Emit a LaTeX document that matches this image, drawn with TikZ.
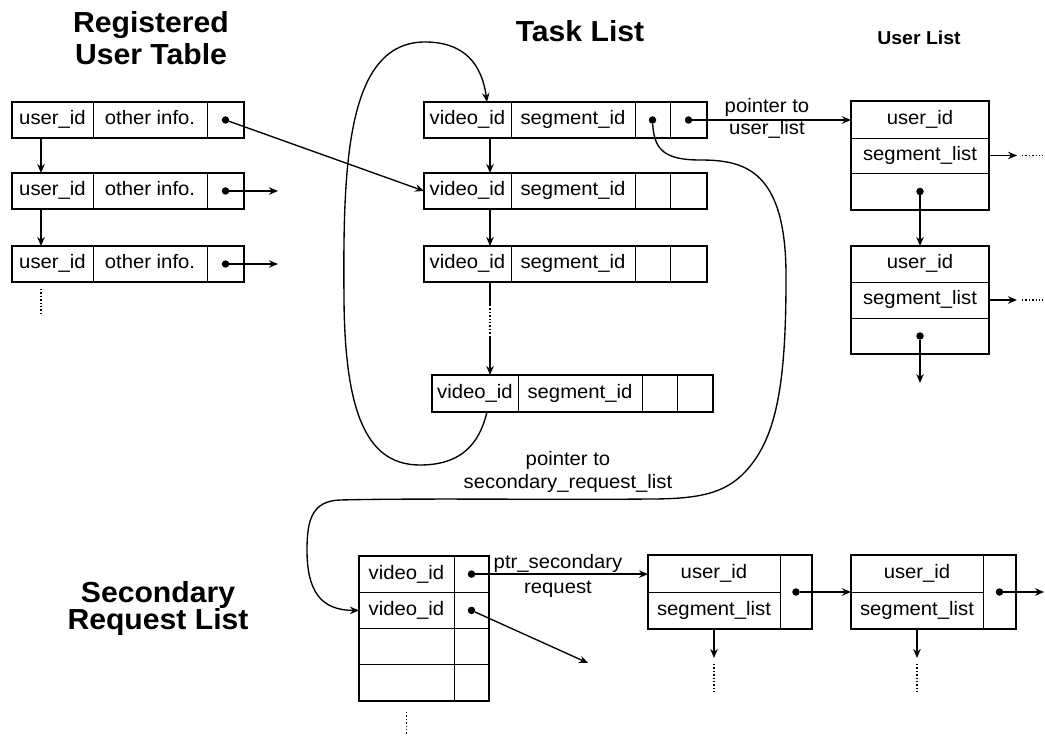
\documentclass[tikz,border=0pt]{standalone}
\usepackage{fontspec}
\setmainfont{Liberation Sans}[FakeStretch=1.04]
\usetikzlibrary{arrows.meta}
\newcommand\cellfnt{\fontsize{19.5}{23}\selectfont}
\newcommand\headfnt{\fontsize{29}{33}\selectfont\bfseries}
\newcommand\subheadfnt{\fontsize{18.7}{22}\selectfont\bfseries}
\begin{document}
\begin{tikzpicture}[x=1pt,y=-1pt,
  cell/.style={draw, line width=0.9pt, inner sep=0pt, outer sep=0pt, font=\cellfnt,
    text height=13.9pt, text depth=4.1pt},
  wh/.style 2 args={minimum width=#1pt, minimum height=#2pt},
  frame/.style={line width=1.9pt},
  ptr/.style={line width=1.35pt, -{Stealth[length=9pt,width=7.5pt]}},
  dotpt/.style={circle, fill, inner sep=0pt, minimum size=7.5pt},
  more/.style={line width=1.4pt, dash pattern=on 1.4pt off 2pt},
  head/.style={font=\headfnt, anchor=base, inner sep=0pt},
  lbl/.style={font=\cellfnt, anchor=base, inner sep=0pt}]
\useasboundingbox (0,0) rectangle (1045,738);

% ---------- titles ----------
\node[head] (hreg1) at (151,33) {Registered};
\node[head] (hreg2) at (151,65) {User Table};
\node[head] (htask) at (580,42) {Task List};
\node[head, font=\subheadfnt] (huser) at (919,45) {User List};
\node[head] (hsec1) at (158,602) {Secondary};
\node[head] (hsec2) at (158,629) {Request List};

% ---------- registered user table ----------
\foreach \r/\y in {1/120,2/191,3/264}{
  \node[cell, wh={81}{36}] (r\r a) at (52.5,\y) {user\_id};
  \node[cell, wh={114}{36}] (r\r b) at (150,\y) {other info.};
  \node[cell, wh={37}{36}] (r\r c) at (225.5,\y) {};
  \draw[frame] (r\r a.north west) rectangle (r\r c.south east);
  \node[dotpt] (r\r dot) at (r\r c.center) {};
}
\draw[ptr] ([xshift=-11.5pt]r1a.south) -- ([xshift=-11.5pt]r2a.north);
\draw[ptr] ([xshift=-11.5pt]r2a.south) -- ([xshift=-11.5pt]r3a.north);
\draw[more] ([xshift=-11.5pt,yshift=-7pt]r3a.south) -- ([xshift=-11.5pt,yshift=-31pt]r3a.south);
\coordinate (r2end) at (278,191);
\coordinate (r3end) at (278,264);
\draw[ptr] (r2dot) -- (r2end);
\draw[ptr] (r3dot) -- (r3end);

% ---------- task list ----------
\foreach \r/\y in {1/120,2/191,3/264}{
  \node[cell, wh={87}{36}] (t\r a) at (467.5,\y) {video\_id};
  \node[cell, wh={124}{36}] (t\r b) at (573,\y) {segment\_id};
  \node[cell, wh={35}{36}] (t\r c) at (652.5,\y) {};
  \node[cell, wh={37}{36}] (t\r d) at (688.5,\y) {};
  \draw[frame] (t\r a.north west) rectangle (t\r d.south east);
}
\node[cell, wh={86}{37}] (t4a) at (475,393.5) {video\_id};
\node[cell, wh={124}{37}] (t4b) at (580,393.5) {segment\_id};
\node[cell, wh={35}{37}] (t4c) at (659.5,393.5) {};
\node[cell, wh={36}{37}] (t4d) at (695,393.5) {};
\draw[frame] (t4a.north west) rectangle (t4d.south east);
\node[dotpt] (t1cdot) at (t1c.center) {};
\node[dotpt] (t1ddot) at (t1d.center) {};

\draw[ptr] ([xshift=22.5pt]t1a.south) -- ([xshift=22.5pt]t2a.north);
\draw[ptr] ([xshift=22.5pt]t2a.south) -- ([xshift=22.5pt]t3a.north);
\coordinate (t3m1) at (490,305);
\coordinate (t3m2) at (490,337);
\draw[line width=1.35pt] ([xshift=22.5pt]t3a.south) -- (t3m1);
\draw[more] (t3m1) -- (t3m2);
\draw[ptr] (t3m2) -- ([xshift=15pt]t4a.north);

% registered user -> task entry
\draw[ptr] (r1dot) -- (t2a.west);

% loop from the last task back to the head of the list
\draw[ptr] ([xshift=12pt]t4a.south) .. controls (478,450) and (455,465) .. (420,465)
  .. controls (370,465) and (345,420) .. (344,300)
  .. controls (343,170) and (345,42) .. (425,42)
  .. controls (465,42) and (482,65) .. ([xshift=19.5pt]t1a.north);

% ---------- user list ----------
\node[cell, wh={138}{37}] (u1a) at (920,119.5) {user\_id};
\node[cell, wh={138}{35}] (u1b) at (920,155.5) {segment\_list};
\node[cell, wh={138}{37}] (u1c) at (920,191.5) {};
\draw[frame] (u1a.north west) rectangle (u1c.south east);
\node[cell, wh={138}{36}] (u2a) at (920,264) {user\_id};
\node[cell, wh={138}{36}] (u2b) at (920,300) {segment\_list};
\node[cell, wh={138}{36}] (u2c) at (920,336) {};
\draw[frame] (u2a.north west) rectangle (u2c.south east);
\node[dotpt] (u1dot) at (u1c.center) {};
\node[dotpt] (u2dot) at (u2c.center) {};

\draw[ptr] (t1ddot) -- (t1ddot -| u1a.west);
\node[lbl] (lblu1) at (767,113) {pointer to};
\node[lbl] (lblu2) at (767,135) {user\_list};

\coordinate (u1next) at (1017,155.5);
\coordinate (u1more) at (1043,155.5);
\draw[ptr] (u1b.east) -- (u1next);
\draw[more] ([xshift=5pt]u1next) -- (u1more);
\coordinate (u2next) at (1017,300);
\coordinate (u2more) at (1043,300);
\draw[ptr] (u2b.east) -- (u2next);
\draw[more] ([xshift=5pt]u2next) -- (u2more);
\draw[ptr] (u1dot) -- (u2a.north);
\coordinate (u2end) at (920,383);
\draw[ptr] (u2dot) -- (u2end);

% ---------- secondary request list ----------
\foreach \r/\y in {1/574.1,2/610.4,3/646.6,4/682.9}{
  \node[cell, wh={95}{36.25}] (s\r a) at (406.5,\y) {};
  \node[cell, wh={35}{36.25}] (s\r b) at (471.5,\y) {};
}
\node[font=\cellfnt, inner sep=0pt, text height=13.9pt, text depth=4.1pt] (s1txt) at (s1a) {video\_id};
\node[font=\cellfnt, inner sep=0pt, text height=13.9pt, text depth=4.1pt] (s2txt) at (s2a) {video\_id};
\draw[frame] (s1a.north west) rectangle (s4b.south east);
\node[dotpt] (s1dot) at (s1b.center) {};
\node[dotpt] (s2dot) at (s2b.center) {};
\draw[more] ([yshift=-11pt]s4a.south) -- ([yshift=-34pt]s4a.south);

% pointer from the task list to the secondary request list
\draw[ptr] (t1cdot) .. controls (654,150) and (665,160) .. (700,160)
  .. controls (745,160) and (787,170) .. (786,280)
  .. controls (786,390) and (775,440) .. (745,472)
  .. controls (725,493) and (700,499) .. (650,499)
  .. controls (550,500) and (420,498) .. (340,500)
  .. controls (312,501) and (307,520) .. (307,550)
  .. controls (307,590) and (320,610.4) .. (s2a.west);
\node[lbl] (lblsr1) at (568,465) {pointer to};
\node[lbl] (lblsr2) at (568,488) {secondary\_request\_list};

% secondary user entries
\node[cell, wh={132}{37}] (Aa) at (714,573.5) {user\_id};
\node[cell, wh={132}{37}] (Ab) at (714,610.5) {segment\_list};
\node[cell, wh={32}{74}] (Ac) at (796,592) {};
\draw[frame] (Aa.north west) rectangle (Ac.south east);
\node[cell, wh={132}{37}] (Ba) at (917,573.5) {user\_id};
\node[cell, wh={132}{37}] (Bb) at (917,610.5) {segment\_list};
\node[cell, wh={33}{74}] (Bc) at (999.5,592) {};
\draw[frame] (Ba.north west) rectangle (Bc.south east);
\node[dotpt] (Adot) at (Ac.center) {};
\node[dotpt] (Bdot) at (Bc.center) {};

\draw[ptr] (s1dot) -- (s1dot -| Aa.west);
\node[lbl] (lblps1) at (558,568) {ptr\_secondary};
\node[lbl] (lblps2) at (558,593) {request};
\coordinate (s2end) at (588,663);
\draw[ptr] (s2dot) -- (s2end);

\draw[ptr] (Adot) -- (Ba.south west);
\coordinate (Bend) at (1044,592);
\draw[ptr] (Bdot) -- (Bend);

\coordinate (Adown) at (714,658);
\coordinate (Bdown) at (917,658);
\draw[ptr] (Ab.south) -- (Adown);
\draw[more] ([yshift=-6pt]Adown) -- ([yshift=-34pt]Adown);
\draw[ptr] (Bb.south) -- (Bdown);
\draw[more] ([yshift=-6pt]Bdown) -- ([yshift=-34pt]Bdown);
\end{tikzpicture}
\end{document}
